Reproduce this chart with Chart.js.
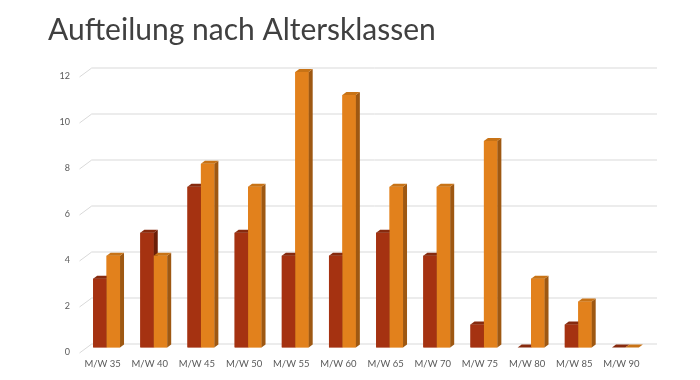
<!DOCTYPE html>
<html>
<head>
<meta charset="utf-8">
<script src="https://cdn.jsdelivr.net/npm/chart.js@4.4.0/dist/chart.umd.min.js"></script>
<style>
html,body{margin:0;padding:0;background:#fff;}
#wrap{width:700px;height:380px;}
</style>
</head>
<body>
<div id="wrap"><canvas id="c" width="700" height="380"></canvas></div>
<script>
const titleText = 'Aufteilung nach Altersklassen';
const categories = ['M/W 35','M/W 40','M/W 45','M/W 50','M/W 55','M/W 60','M/W 65','M/W 70','M/W 75','M/W 80','M/W 85','M/W 90'];
const seriesDark = [3,5,7,5,4,4,5,4,1,0,1,0];
const seriesOrange = [4,4,8,7,12,11,7,7,9,3,2,0];
const yMin = 0, yMax = 12, yStep = 2;

const faceColors = [
  {front:'#A53211', top:'#862A0E', side:'#6C1F08'},
  {front:'#E2811C', top:'#C87316', side:'#9E5812'}
];

const grid3d = {
  id:'grid3d',
  beforeDatasetsDraw(chart){
    const {ctx, chartArea:a, scales:{y}} = chart;
    ctx.save();
    ctx.strokeStyle = '#d9d9d9';
    ctx.lineWidth = 1;
    y.ticks.forEach(t => {
      const p = Math.round(y.getPixelForValue(t.value)) + 0.5;
      ctx.beginPath();
      ctx.moveTo(a.left - 3.5, p + 4.5);
      ctx.lineTo(a.left + 8.7, p - 4.5);
      ctx.lineTo(a.right + 8, p - 4.5);
      ctx.stroke();
    });
    ctx.restore();
  }
};

const bars3d = {
  id:'bars3d',
  afterDatasetsDraw(chart){
    const ctx = chart.ctx;
    const dx = 4, dy = 3;
    const n = chart.data.labels.length;
    ctx.save();
    for (let i = 0; i < n; i++) {
      chart.data.datasets.forEach((ds, di) => {
        const el = chart.getDatasetMeta(di).data[i];
        if (!el) return;
        const {x, y, base, width} = el.getProps(['x','y','base','width'], true);
        const l = x - width/2, r = x + width/2;
        const c = faceColors[di];
        ctx.fillStyle = c.front;
        ctx.fillRect(l, y, width, base - y);
        ctx.fillStyle = c.side;
        ctx.beginPath();
        ctx.moveTo(r, y); ctx.lineTo(r+dx, y-dy); ctx.lineTo(r+dx, base-dy); ctx.lineTo(r, base);
        ctx.closePath(); ctx.fill();
        ctx.fillStyle = c.top;
        ctx.beginPath();
        ctx.moveTo(l, y); ctx.lineTo(l+dx, y-dy); ctx.lineTo(r+dx, y-dy); ctx.lineTo(r, y);
        ctx.closePath(); ctx.fill();
      });
    }
    ctx.restore();
  }
};

new Chart(document.getElementById('c'), {
  type:'bar',
  data:{
    labels: categories,
    datasets:[
      {label:'M', data: seriesDark, backgroundColor: faceColors[0].front, barPercentage:1, categoryPercentage:0.57},
      {label:'W', data: seriesOrange, backgroundColor: faceColors[1].front, barPercentage:1, categoryPercentage:0.57}
    ]
  },
  options:{
    responsive:false,
    animation:false,
    events:[],
    layout:{padding:{left:48, right:51, top:0, bottom:0}},
    plugins:{
      legend:{display:false},
      tooltip:{enabled:false},
      title:{
        display:true, text:titleText, align:'start',
        color:'#404040',
        font:{family:'Lato', size:30, weight:'normal'},
        padding:{top:12, bottom:24}
      }
    },
    scales:{
      x:{
        grid:{display:false, drawTicks:false},
        border:{display:false},
        ticks:{color:'#595959', font:{family:'Lato', size:9.5}, padding:11, labelOffset:-4, maxRotation:0, autoSkip:false},
        afterFit(s){ s.height = 32.5; }
      },
      y:{
        min:yMin, max:yMax,
        grid:{display:false, drawTicks:false},
        border:{display:false},
        ticks:{stepSize:yStep, color:'#595959', font:{family:'Lato', size:9}, padding:13, labelOffset:4.5},
        afterFit(s){ s.width = 35; }
      }
    }
  },
  plugins:[grid3d, bars3d]
});
</script>
</body>
</html>
